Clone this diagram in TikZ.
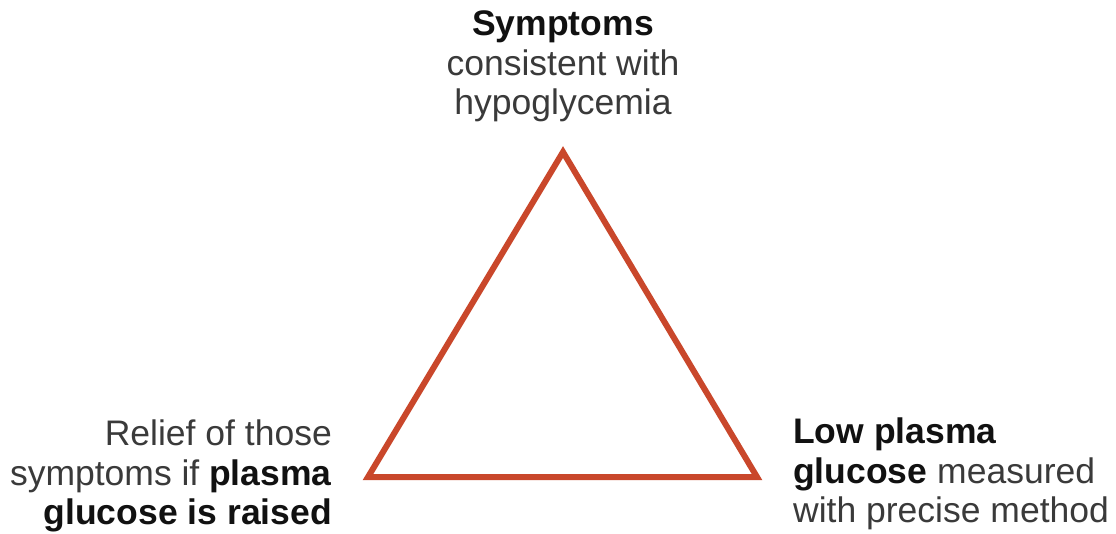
\documentclass[tikz,border=0pt]{standalone}
\usepackage{fontspec}
\setmainfont{Liberation Sans}
\definecolor{tri}{HTML}{C9472B}
\definecolor{txt}{HTML}{3A3A3A}
\definecolor{bld}{HTML}{111111}
\begin{document}
\begin{tikzpicture}[x=1pt,y=-1pt,
  lbl/.style={inner sep=0pt,text=txt,font=\fontsize{35.5}{39.5}\selectfont},
  edge/.style={draw=tri,line width=6pt,line join=miter}]
\useasboundingbox (0,0) rectangle (1116,533);
\coordinate (A) at (563,152);
\coordinate (B) at (368,477);
\coordinate (C) at (757,477);
\draw[edge] (A) -- (B) -- (C) -- cycle;
\node[lbl,align=center,anchor=north] (top) at (563,11)
  {\textcolor{bld}{\textbf{Symptoms}}\\consistent with\\hypoglycemia};
\node[lbl,align=right,anchor=north east] (left) at (332,420)
  {Relief of those\\symptoms if \textcolor{bld}{\textbf{plasma}}\\\textcolor{bld}{\textbf{glucose is raised}}};
\node[lbl,align=left,anchor=north west] (right) at (793,418)
  {\textcolor{bld}{\textbf{Low plasma}}\\\textcolor{bld}{\textbf{glucose}} measured\\with precise method};
\end{tikzpicture}
\end{document}
